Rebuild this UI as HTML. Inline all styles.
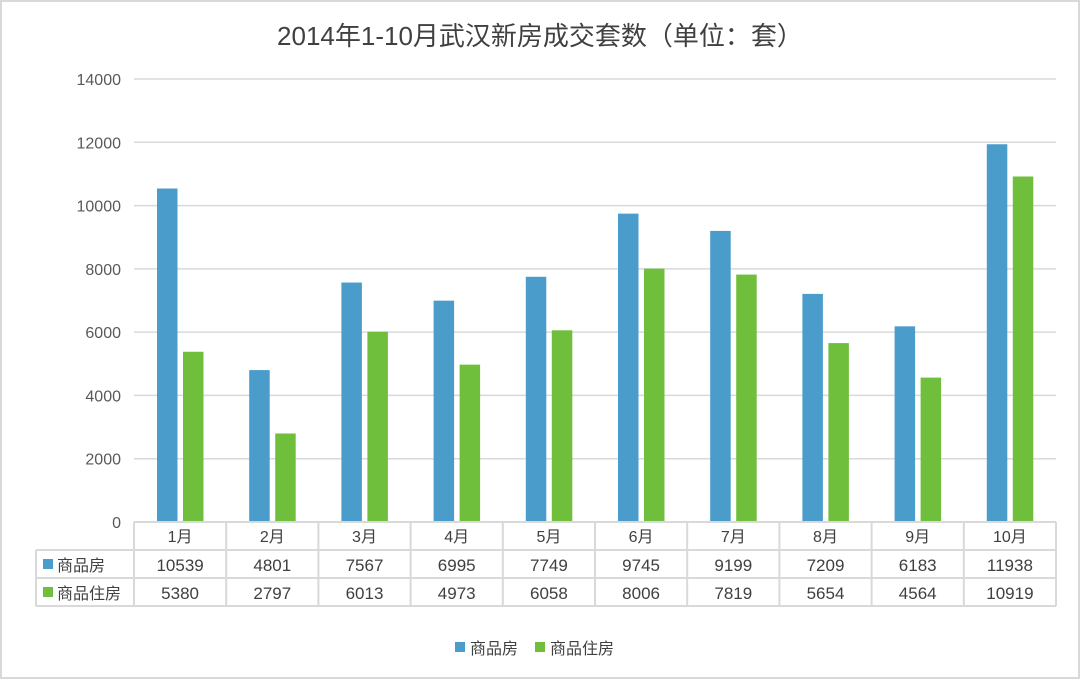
<!DOCTYPE html>
<html><head><meta charset="utf-8"><style>
body{margin:0;background:#fff}
svg{display:block;font-family:"Liberation Sans","Noto Sans CJK SC",sans-serif}
</style></head><body>
<svg id="chart" width="1080" height="679" viewBox="0 0 1080 679">
<rect x="1" y="1" width="1078" height="677" fill="#fff" stroke="#d9d9d9" stroke-width="2"/>
<text x="540" y="45" text-anchor="middle" font-size="26" fill="#404040">2014年1-10月武汉新房成交套数（单位：套）</text>
<g id="grid"></g><g id="bars"></g><g id="table"></g>
<g>
<rect x="455" y="642" width="10" height="10" fill="#4a9ccb"/>
<text x="470" y="654" font-size="16" fill="#404040">商品房</text>
<rect x="535" y="642" width="10" height="10" fill="#70bf3c"/>
<text x="550" y="654" font-size="16" fill="#404040">商品住房</text>
</g>
</svg>
<script>
const categories=["1月","2月","3月","4月","5月","6月","7月","8月","9月","10月"];
const commercial=[10539,4801,7567,6995,7749,9745,9199,7209,6183,11938];
const residential=[5380,2797,6013,4973,6058,8006,7819,5654,4564,10919];
const yTicks=[0,2000,4000,6000,8000,10000,12000,14000];
const NS="http://www.w3.org/2000/svg";
const x0=134,cw=92.2,yZero=522,yTop=79,yMax=14000;
const y=v=>yZero-(v/yMax)*(yZero-yTop);
const cx=i=>x0+i*cw;
function mk(tag,attrs,parent,txt){const e=document.createElementNS(NS,tag);for(const k in attrs)e.setAttribute(k,attrs[k]);if(txt!==undefined)e.textContent=txt;parent.appendChild(e);return e;}
const grid=document.getElementById('grid'),bars=document.getElementById('bars'),table=document.getElementById('table');
yTicks.forEach(t=>{
 if(t>0){const l=mk('line',{x1:x0,x2:1056,y1:y(t),y2:y(t),stroke:'#d9d9d9','stroke-width':1.5},grid);
 
 }
 const tx=mk('text',{x:121,y:y(t)+6,'text-anchor':'end','font-size':16,fill:'#595959'},grid,String(t));
 
 
});
categories.forEach((c,i)=>{
 const b=mk('rect',{x:cx(i)+23,y:y(commercial[i]),width:20.5,height:yZero-y(commercial[i]),fill:'#4a9ccb'},bars);
 
 
 const g=mk('rect',{x:cx(i)+49,y:y(residential[i]),width:20.5,height:yZero-y(residential[i]),fill:'#70bf3c'},bars);
 
 
});
// table
const st={stroke:'#d9d9d9','stroke-width':2,fill:'none'};
const xEnd=x0+categories.length*cw;
[[x0,522,xEnd,522],[36,550,xEnd,550],[36,578,xEnd,578],[36,606,xEnd,606]].forEach(a=>mk('line',Object.assign({x1:a[0],y1:a[1],x2:a[2],y2:a[3]},st),table));
mk('line',Object.assign({x1:36,y1:550,x2:36,y2:606},st),table);
for(let i=0;i<=categories.length;i++)mk('line',Object.assign({x1:cx(i),y1:522,x2:cx(i),y2:606},st),table);
categories.forEach((c,i)=>{
 const h=mk('text',{x:cx(i)+cw/2,y:542,'text-anchor':'middle','font-size':16,fill:'#404040'},table,c);
 
 
 const a=mk('text',{x:cx(i)+cw/2,y:571,'text-anchor':'middle','font-size':17,fill:'#404040'},table,String(commercial[i]));
 
 
 const r=mk('text',{x:cx(i)+cw/2,y:599,'text-anchor':'middle','font-size':17,fill:'#404040'},table,String(residential[i]));
 
 
});
const s1=mk('rect',{x:43,y:559,width:10,height:10,fill:'#4a9ccb'},table);


const l1=mk('text',{x:57,y:571,'font-size':16,fill:'#404040'},table,'商品房');


const s2=mk('rect',{x:43,y:587,width:10,height:10,fill:'#70bf3c'},table);


const l2=mk('text',{x:57,y:599,'font-size':16,fill:'#404040'},table,'商品住房');


</script>
</body></html>
